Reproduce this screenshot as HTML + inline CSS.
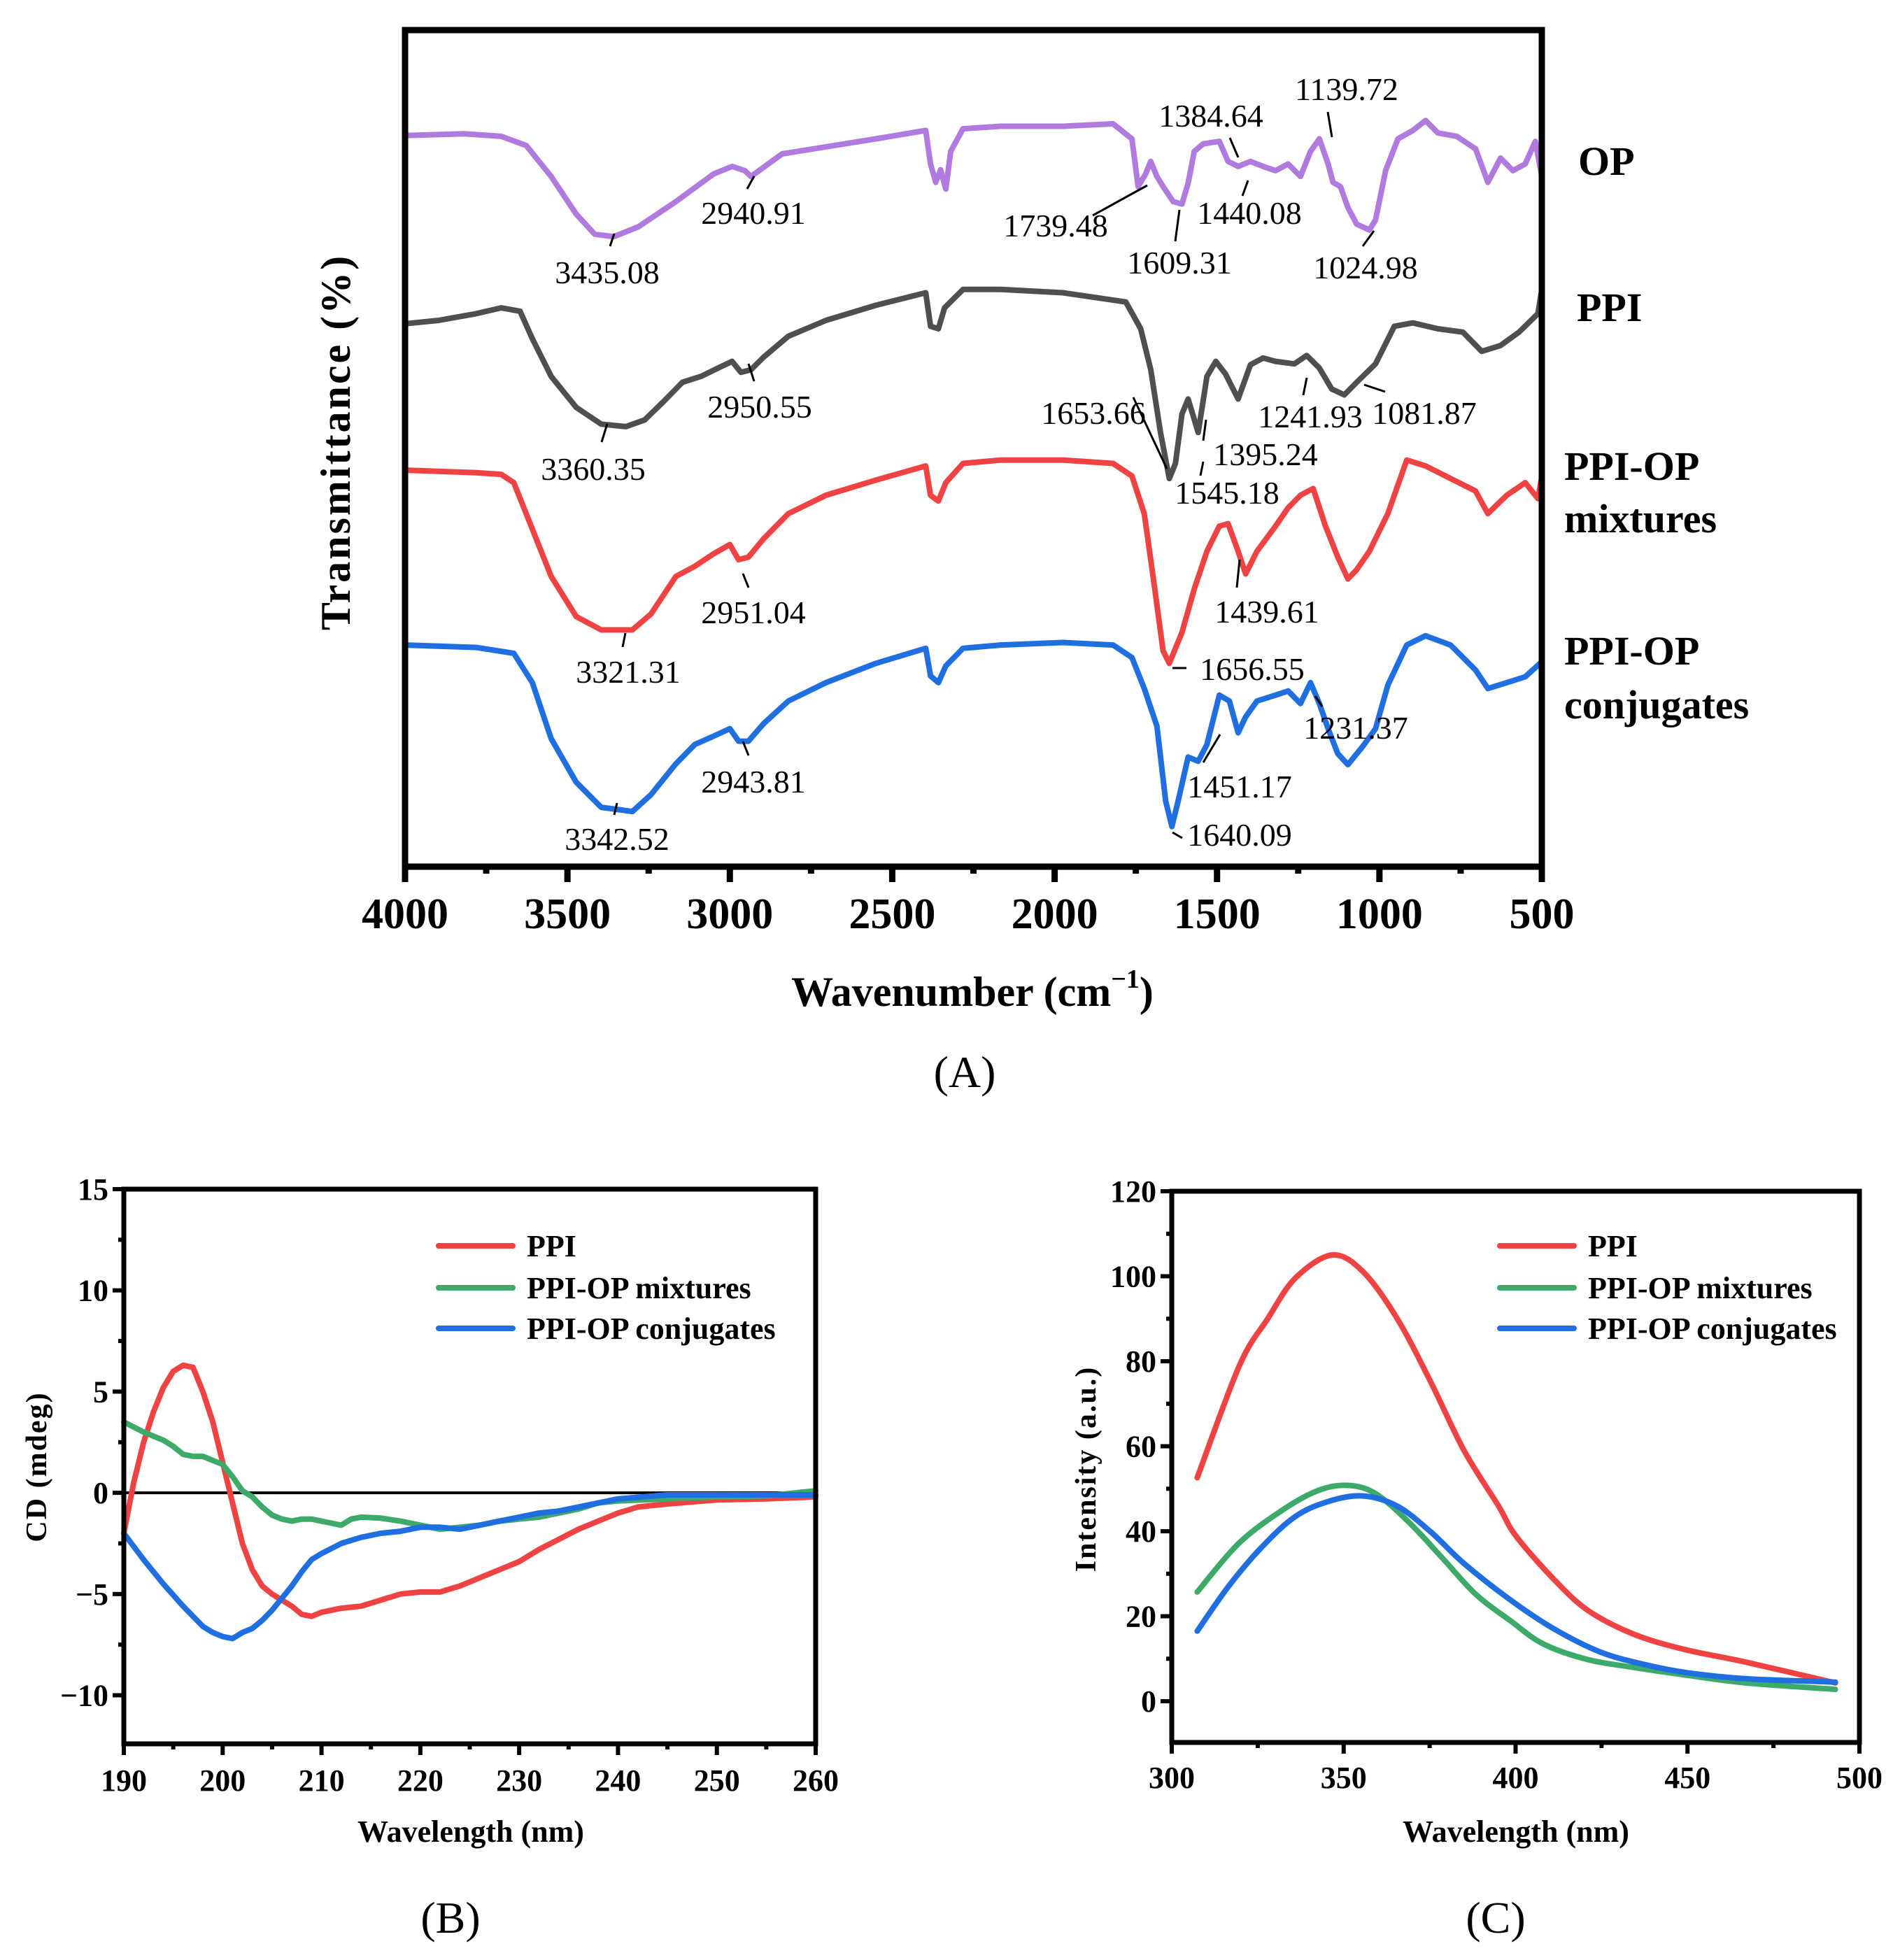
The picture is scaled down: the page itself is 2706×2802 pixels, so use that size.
<!DOCTYPE html>
<html><head><meta charset="utf-8"><style>
html,body{margin:0;padding:0;background:#fff}
svg{display:block}
text{font-family:"Liberation Serif",serif}
</style></head><body>
<svg id="fig" width="2706" height="2802" viewBox="0 0 2706 2802" xmlns="http://www.w3.org/2000/svg">
<rect width="2706" height="2802" fill="#fff"/>
<g id="gA"></g>
<g id="gB"></g>
<g id="gC"></g>
</svg>
<script>
// ---------- Panel A data (wavenumber, arbitrary transmittance) ----------
const ftirOP = [[4000,87.4],[3819,87.6],[3704,87.3],[3627,86.2],[3550,82.5],[3473,78],[3416,75.6],[3358,75.3],[3281,76.5],[3166,79.5],[3050,82.8],[2993,83.7],[2954,83.2],[2935,82.5],[2896,83.6],[2839,85.2],[2743,85.8],[2551,87],[2397,88],[2382,84],[2366,81.8],[2351,83.3],[2335,81],[2320,85.5],[2282,88.2],[2166,88.5],[1974,88.5],[1820,88.8],[1762,87],[1743,81.3],[1720,82.8],[1704,84.3],[1685,82.5],[1666,81.3],[1635,79.5],[1608,79.2],[1589,81.7],[1570,85.5],[1543,86.4],[1493,86.7],[1466,84.3],[1435,83.7],[1397,84.3],[1358,83.7],[1320,83.2],[1281,84],[1243,82.5],[1212,85.5],[1185,87],[1158,84],[1143,81.8],[1120,81.3],[1097,78.8],[1070,76.8],[1031,76.1],[1012,77.3],[981,83.2],[943,87],[897,88],[858,89.2],[820,87.7],[762,87.3],[704,85.8],[666,81.8],[627,84.7],[589,83.2],[551,84],[520,86.7],[500,82.5]];
const ftirPPI = [[4000,64.9],[3896,65.3],[3781,66.1],[3704,66.8],[3646,66.4],[3608,63.1],[3550,58.6],[3473,54.9],[3396,52.9],[3320,52.6],[3262,53.4],[3204,55.6],[3146,57.9],[3089,58.6],[3031,59.7],[2993,60.4],[2966,59.1],[2935,59.4],[2896,60.9],[2820,63.4],[2704,65.3],[2551,67.1],[2397,68.6],[2382,64.6],[2358,64.3],[2339,66.8],[2282,69],[2166,69],[1974,68.6],[1781,67.5],[1735,64.3],[1704,59.4],[1674,51.9],[1647,46.4],[1628,48.2],[1608,54.1],[1589,55.9],[1558,51.9],[1531,58.6],[1504,60.4],[1474,58.9],[1435,55.9],[1397,60],[1358,60.8],[1320,60.4],[1262,60.1],[1224,61.1],[1185,59.6],[1147,57.1],[1108,56.4],[1070,57.9],[1012,60.1],[954,64.6],[897,65],[820,64.3],[743,63.9],[685,61.6],[627,62.3],[570,63.9],[512,66.1],[500,69]];
const ftirMix = [[4000,47.4],[3781,47.1],[3704,46.9],[3665,45.9],[3627,42.2],[3550,34.7],[3473,29.9],[3396,28.3],[3300,28.3],[3243,30.2],[3166,34.7],[3108,35.9],[3050,37.4],[3000,38.5],[2973,36.7],[2943,37],[2896,39.2],[2820,42.2],[2704,44.4],[2551,46.2],[2397,47.9],[2382,44.4],[2358,43.7],[2335,45.9],[2282,48.2],[2166,48.6],[1974,48.6],[1820,48.2],[1762,46.7],[1724,42.2],[1697,34.7],[1666,25.8],[1647,24.3],[1608,28],[1570,33.2],[1531,37.7],[1493,40.7],[1466,41],[1435,37.7],[1412,35],[1377,37.7],[1320,40.7],[1281,42.9],[1243,44.4],[1204,45.2],[1166,40.7],[1128,37],[1097,34.4],[1070,35.5],[1031,37.7],[974,42.2],[916,48.6],[858,47.9],[781,46.4],[704,44.9],[666,42.2],[608,44.4],[551,45.9],[512,44],[500,46.6]];
const ftirConj = [[4000,26.5],[3781,26.2],[3665,25.5],[3608,22],[3550,15.3],[3473,10.1],[3396,7.1],[3300,6.6],[3243,8.6],[3166,12.3],[3108,14.6],[3050,15.6],[3000,16.5],[2973,15],[2943,15],[2896,17.1],[2820,19.8],[2704,22],[2551,24.3],[2397,26.1],[2382,22.8],[2358,22],[2335,24],[2282,26.1],[2166,26.5],[1974,26.8],[1820,26.5],[1762,25],[1724,21.3],[1685,16.8],[1658,7.8],[1639,4.8],[1620,7.8],[1589,13.1],[1558,12.6],[1531,14.6],[1493,20.5],[1462,19.8],[1435,16],[1412,17.9],[1377,19.8],[1320,20.5],[1281,21],[1243,19.5],[1212,22],[1185,19.5],[1158,16.5],[1128,13.5],[1097,12.2],[1051,14.4],[1012,16.5],[974,21.7],[916,26.5],[858,27.6],[781,26.5],[704,23.5],[666,21.3],[608,22],[551,22.7],[500,24.5]];
const ftirTicks = [4000,3500,3000,2500,2000,1500,1000,500];

// ---------- Panel B data ----------
const cdPPI = [[190,-2],[191,0.5],[192,2.5],[193,4],[194,5.2],[195,6],[196,6.3],[197,6.2],[198,5],[199,3.5],[200,1.5],[201,-0.5],[202,-2.5],[203,-3.8],[204,-4.6],[205,-5],[206,-5.3],[207,-5.6],[208,-6],[209,-6.1],[210,-5.9],[212,-5.7],[214,-5.6],[216,-5.3],[218,-5.0],[220,-4.9],[222,-4.9],[224,-4.6],[226,-4.2],[228,-3.8],[230,-3.4],[232,-2.8],[234,-2.3],[236,-1.8],[238,-1.4],[240,-1.0],[242,-0.7],[245,-0.55],[250,-0.35],[255,-0.3],[260,-0.2]];
const cdMix = [[190,3.5],[192,3.0],[194,2.6],[195,2.3],[196,1.9],[197,1.8],[198,1.8],[199,1.6],[200,1.4],[201,0.8],[202,0.1],[203,-0.2],[204,-0.7],[205,-1.1],[206,-1.3],[207,-1.4],[208,-1.3],[209,-1.3],[210,-1.4],[211,-1.5],[212,-1.6],[213,-1.3],[214,-1.2],[216,-1.25],[218,-1.4],[220,-1.6],[222,-1.8],[224,-1.7],[226,-1.6],[228,-1.4],[230,-1.3],[232,-1.2],[234,-1.0],[236,-0.8],[238,-0.5],[240,-0.4],[245,-0.3],[250,-0.2],[255,-0.15],[260,0.1]];
const cdConj = [[190,-2],[192,-3.3],[194,-4.5],[196,-5.6],[198,-6.6],[199,-6.9],[200,-7.1],[201,-7.2],[202,-6.9],[203,-6.7],[204,-6.3],[205,-5.8],[206,-5.2],[207,-4.6],[208,-3.9],[209,-3.3],[210,-3.0],[212,-2.5],[214,-2.2],[216,-2.0],[218,-1.9],[220,-1.7],[222,-1.7],[224,-1.8],[226,-1.6],[228,-1.4],[230,-1.2],[232,-1.0],[234,-0.9],[236,-0.7],[238,-0.5],[240,-0.3],[245,-0.1],[250,-0.1],[260,-0.1]];
const cdXTicks = [190,200,210,220,230,240,250,260];
const cdYTicks = [-10,-5,0,5,10,15];

// ---------- Panel C data ----------
const flPPI = [[307.4,52.6],[319.7,79],[327.9,90],[336,99.6],[346.7,105],[355.7,101],[365.6,90],[375.4,75],[385,59],[395,46],[400,39],[411,28.8],[421,21.4],[434,15.9],[449,12.2],[467,9.2],[493,4.3]];
const flMix = [[307.4,25.7],[319.7,37.3],[332.8,45.3],[342.6,49.6],[350.8,50.8],[359,49],[368.9,42.2],[378.7,33.7],[388.5,25.1],[398.4,19],[408,13.5],[421,9.8],[434,8],[450,6.1],[467,4.3],[493,2.8]];
const flConj = [[307.4,16.5],[316.4,26.9],[326,36.1],[336,43.5],[345.9,47.1],[355.7,48.3],[365.6,45.9],[375.4,39.8],[385,32.4],[398.4,23.9],[411,17.1],[424.6,11.6],[437.7,8.6],[450,6.7],[467,5.3],[493,4.5]];
const flXTicks = [300,350,400,450,500];
const flYTicks = [0,20,40,60,80,100,120];
const legendNames = ["PPI","PPI-OP mixtures","PPI-OP conjugates"];

const NS="http://www.w3.org/2000/svg";
function mk(parent,tag,attrs,text){const e=document.createElementNS(NS,tag);for(const k in attrs)e.setAttribute(k,attrs[k]);if(text!==undefined)e.textContent=text;parent.appendChild(e);return e;}
function lin(d0,d1,r0,r1){return v=>r0+(v-d0)*(r1-r0)/(d1-d0);}
function polyD(pts,sx,sy){return pts.map((p,i)=>(i?'L':'M')+sx(p[0]).toFixed(1)+' '+sy(p[1]).toFixed(1)).join(' ');}
function smoothD(pts,sx,sy){const P=pts.map(p=>[sx(p[0]),sy(p[1])]);let d='M'+P[0][0].toFixed(1)+' '+P[0][1].toFixed(1);for(let i=0;i<P.length-1;i++){const p0=P[Math.max(i-1,0)],p1=P[i],p2=P[i+1],p3=P[Math.min(i+2,P.length-1)];const c1=[p1[0]+(p2[0]-p0[0])/6,p1[1]+(p2[1]-p0[1])/6],c2=[p2[0]-(p3[0]-p1[0])/6,p2[1]-(p3[1]-p1[1])/6];d+=' C'+c1.map(v=>v.toFixed(1)).join(' ')+' '+c2.map(v=>v.toFixed(1)).join(' ')+' '+p2.map(v=>v.toFixed(1)).join(' ');}return d;}

// ===== Panel A =====
const gA=document.getElementById('gA');
const AL=579,AR=2204,AT=43,AB=1239;
const ax=lin(4000,500,AL,AR), ay=lin(0,100,AB,AT);
const aSeries=[[ftirOP,'#b07ade','op'],[ftirPPI,'#4f4f4f','ppi'],[ftirMix,'#ef4343','mixtures'],[ftirConj,'#1f6fe0','conjugates']];
aSeries.forEach(s=>{const p=mk(gA,'path',{d:polyD(s[0],ax,ay),fill:'none',stroke:s[1],'stroke-width':8,'stroke-linejoin':'round'});

});
mk(gA,'rect',{x:AL,y:AT,width:AR-AL,height:AB-AT,fill:'none',stroke:'#000','stroke-width':9,});
for(let w=4000;w>=500;w-=250){const major=ftirTicks.includes(w);mk(gA,'line',{x1:ax(w),x2:ax(w),y1:AB,y2:AB+(major?22:10),stroke:'#000','stroke-width':9,});}
ftirTicks.forEach(w=>{const t=mk(gA,'text',{x:ax(w),y:1327,'font-size':62,'font-weight':'bold','text-anchor':'middle'},String(w));

});
mk(gA,'text',{x:0,y:0,transform:'translate(500,632) rotate(-90)','font-size':60,'font-weight':'bold','text-anchor':'middle','letter-spacing':'3',},'Transmittance (%)');
const xt=mk(gA,'text',{x:1390,y:1438,'font-size':60,'font-weight':'bold','text-anchor':'middle',});
xt.innerHTML='Wavenumber (cm<tspan font-size="38" dy="-26">−1</tspan><tspan dy="26">)</tspan>';
mk(gA,'text',{x:1379,y:1554,'font-size':64,'text-anchor':'middle',},'(A)');
[['OP',2256,250],['PPI',2254,459],['PPI-OP',2236,686],['mixtures',2236,761],['PPI-OP',2236,950],['conjugates',2236,1027]].forEach(l=>{
mk(gA,'text',{x:l[1],y:l[2],'font-size':58,'font-weight':'bold',},l[0]);});
const peaks=[['3435.08',868,405],['2940.91',1077,320],['1739.48',1509,338],['1609.31',1686,391],['1384.64',1731,181],['1440.08',1786,320],['1139.72',1925,143],['1024.98',1952,398],
['2950.55',1086,597],['3360.35',848,686],['1653.66',1563,606],['1241.93',1873,611],['1081.87',2036,606],['1395.24',1809,665],['1545.18',1754,720],
['2951.04',1077,891],['3321.31',898,976],['1439.61',1811,890],['1656.55',1790,972],['2943.81',1077,1133],['3342.52',882,1215],['1231.37',1938,1056],['1451.17',1772,1140],['1640.09',1772,1209]];
peaks.forEach(p=>{mk(gA,'text',{x:p[1],y:p[2],'font-size':46,'text-anchor':'middle',},p[0]);});
[[872,352,878,334],[1068,270,1078,252],[1562,308,1640,265],[1680,345,1686,300],[1776,280,1784,258],[1758,197,1770,225],[1898,160,1904,196],[1948,352,1964,330],
[1078,545,1070,520],[860,632,868,606],[1620,568,1668,670],[1863,565,1868,540],[1980,560,1950,550],[1720,630,1724,600],[1716,680,1720,660],
[1070,840,1062,820],[890,925,894,905],[1768,840,1772,800],[1676,955,1696,955],[1070,1080,1062,1060],[878,1165,882,1148],[1890,1010,1880,995],[1720,1090,1744,1050],[1676,1190,1690,1198]].forEach(l=>{
mk(gA,'line',{x1:l[0],y1:l[1],x2:l[2],y2:l[3],stroke:'#000','stroke-width':3,});});

// ===== generic XY panel =====
function panel(g,cfg){
 const sx=lin(cfg.xd[0],cfg.xd[1],cfg.L,cfg.R), sy=lin(cfg.yd[0],cfg.yd[1],cfg.B,cfg.T);
 if(cfg.zero){mk(g,'line',{x1:cfg.L,x2:cfg.R,y1:sy(0),y2:sy(0),stroke:'#000','stroke-width':4,});}
 cfg.series.forEach(s=>{const p=mk(g,'path',{d:cfg.smooth?smoothD(s[0],sx,sy):polyD(s[0],sx,sy),fill:'none',stroke:s[1],'stroke-width':8,'stroke-linejoin':'round','stroke-linecap':'round'});
  
  });
 mk(g,'rect',{x:cfg.L,y:cfg.T,width:cfg.R-cfg.L,height:cfg.B-cfg.T,fill:'none',stroke:'#000','stroke-width':7,});
 const xs=cfg.xt, ys=cfg.yt;
 for(let i=0;i<xs.length;i++){const v=xs[i];mk(g,'line',{x1:sx(v),x2:sx(v),y1:cfg.B,y2:cfg.B+16,stroke:'#000','stroke-width':6,});
  if(i<xs.length-1){const m=(v+xs[i+1])/2;mk(g,'line',{x1:sx(m),x2:sx(m),y1:cfg.B,y2:cfg.B+8,stroke:'#000','stroke-width':6,});}
  const t=mk(g,'text',{x:sx(v),y:cfg.xlY,'font-size':44,'font-weight':'bold','text-anchor':'middle'},String(v));
  
  }
 for(let i=0;i<ys.length;i++){const v=ys[i];mk(g,'line',{x1:cfg.L-16,x2:cfg.L,y1:sy(v),y2:sy(v),stroke:'#000','stroke-width':6,});
  const m=v+(ys[1]-ys[0])/2; if(sy(m)>cfg.T+4)mk(g,'line',{x1:cfg.L-8,x2:cfg.L,y1:sy(m),y2:sy(m),stroke:'#000','stroke-width':6,});
  const m2=v-(ys[1]-ys[0])/2; if(i===0&&sy(m2)<cfg.B-4)mk(g,'line',{x1:cfg.L-8,x2:cfg.L,y1:sy(m2),y2:sy(m2),stroke:'#000','stroke-width':6,});
  const t=mk(g,'text',{x:cfg.L-22,y:sy(v)+15,'font-size':44,'font-weight':'bold','text-anchor':'end'},(v<0?'−'+Math.abs(v):String(v)));
  
  }
 mk(g,'text',{x:0,y:0,transform:'translate('+cfg.ytX+','+cfg.ytY+') rotate(-90)','font-size':42,'font-weight':'bold','text-anchor':'middle','letter-spacing':'2',},cfg.ytitle);
 mk(g,'text',{x:cfg.xtX,y:2633,'font-size':44,'font-weight':'bold','text-anchor':'middle',},'Wavelength (nm)');
 mk(g,'text',{x:cfg.plX,y:2763,'font-size':64,'text-anchor':'middle',},cfg.pl);
 [1781,1841,1899].forEach((yy,i)=>{
  mk(g,'line',{x1:cfg.lgX,x2:cfg.lgX+106,y1:yy,y2:yy,stroke:cfg.series[i][1],'stroke-width':8,'stroke-linecap':'round',});
  mk(g,'text',{x:cfg.lgX+126,y:yy+15,'font-size':44,'font-weight':'bold',},legendNames[i]);});
}
panel(document.getElementById('gB'),{L:177,R:1166,T:1700,B:2493,xd:[190,260],yd:[-12.4,15],xt:cdXTicks,yt:cdYTicks,zero:true,smooth:false,
 series:[[cdPPI,'#ef4343','ppi'],[cdMix,'#3daa6a','mixtures'],[cdConj,'#1f6fe0','conjugates']],
 xlY:2560,ytitle:'CD (mdeg)',ytX:66,ytY:2097,xtX:673,plX:644,pl:'(B)',lgX:627});
panel(document.getElementById('gC'),{L:1675,R:2658,T:1703,B:2491,xd:[300,500],yd:[-9.7,120],xt:flXTicks,yt:flYTicks,zero:false,smooth:true,
 series:[[flPPI,'#ef4343','ppi'],[flMix,'#3daa6a','mixtures'],[flConj,'#1f6fe0','conjugates']],
 xlY:2556,ytitle:'Intensity (a.u.)',ytX:1566,ytY:2100,xtX:2167,plX:2138,pl:'(C)',lgX:2144});
</script>
</body></html>
